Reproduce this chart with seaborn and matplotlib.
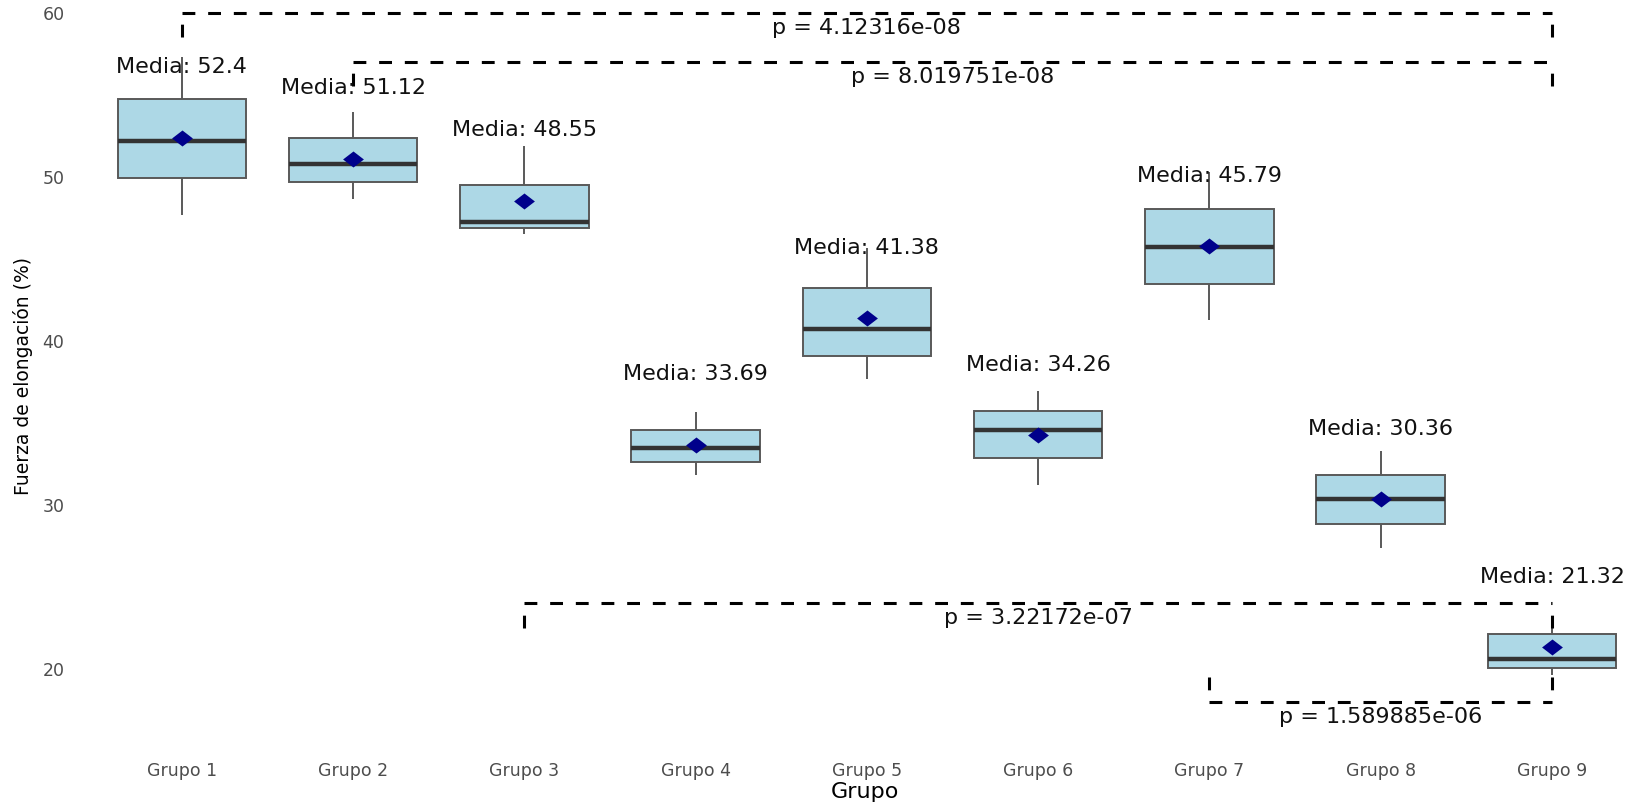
import numpy as np
import pandas as pd
import matplotlib
matplotlib.use("Agg")
import matplotlib.pyplot as plt
from matplotlib.path import Path
import seaborn as sns

# Groups and box summaries (whisker ends, quartiles, median) for elongation force
groups = ["Grupo 1", "Grupo 2", "Grupo 3", "Grupo 4", "Grupo 5",
          "Grupo 6", "Grupo 7", "Grupo 8", "Grupo 9"]
whisker_low = [47.68, 48.66, 46.53, 31.83, 37.68, 31.22, 41.28, 27.36, 19.64]
q1 = [49.92, 49.68, 46.87, 32.64, 39.11, 32.85, 43.50, 28.86, 20.04]
median = [52.20, 50.79, 47.24, 33.50, 40.72, 34.58, 45.71, 30.37, 20.63]
q3 = [54.76, 52.36, 49.51, 34.58, 43.25, 35.75, 48.05, 31.83, 22.14]
whisker_high = [57.30, 53.95, 51.91, 35.69, 45.70, 36.95, 50.30, 33.29, 22.90]
means = [52.40, 51.12, 48.55, 33.69, 41.38, 34.26, 45.79, 30.36, 21.32]

# Pairwise comparisons shown as brackets
comp_start = ["Grupo 1", "Grupo 2", "Grupo 3", "Grupo 7"]
comp_end = ["Grupo 9", "Grupo 9", "Grupo 9", "Grupo 9"]
comp_y = [60.03, 57.04, 24.02, 17.99]
comp_tip_dir = [-1, -1, -1, 1]   # -1: tips hang down, 1: tips point up
p_values = ["4.12316e-08", "8.019751e-08", "3.22172e-07", "1.589885e-06"]

# Five-number rows per group: quartiles of five sorted values are exactly q1/median/q3
rows = []
for g, a, b, c, d, e in zip(groups, whisker_low, q1, median, q3, whisker_high):
    for v in (a, b, c, d, e):
        rows.append({"Grupo": g, "Fuerza": v})
df = pd.DataFrame(rows)

sns.set_theme(style="white")
plt.rcParams["font.family"] = ["DejaVu Sans"]

W, H = 1638, 807
fig = plt.figure(figsize=(W / 100, H / 100), dpi=100)
left_px, right_px, bottom_px = 79, 1633, 757
ax = fig.add_axes([left_px / W, 1 - bottom_px / H, (right_px - left_px) / W, bottom_px / H])

sns.boxplot(data=df, x="Grupo", y="Fuerza", order=groups, ax=ax,
            color="#ADD8E6", saturation=1, width=0.75, whis=(0, 100),
            linecolor="#595959", linewidth=1.4, showcaps=False, fliersize=0,
            medianprops=dict(color="#333333", linewidth=3.2))

diamond = Path([(0, 1), (1.3, 0), (0, -1), (-1.3, 0), (0, 1)],
               [Path.MOVETO, Path.LINETO, Path.LINETO, Path.LINETO, Path.CLOSEPOLY])
sns.pointplot(x=groups, y=means, order=groups, ax=ax, color="#00008B",
              markers=diamond, linestyle="none", errorbar=None,
              markersize=15, markeredgewidth=0, zorder=5)

# Mean annotations above each box
for i, m in enumerate(means):
    ax.text(i, m + 3.93, f"Media: {m:g}", ha="center", va="baseline",
            fontsize=16, color="#111111", zorder=6)

# Significance brackets with dashed segments
pos = {g: i for i, g in enumerate(groups)}
dash = (0, (4.2, 4.2))
tip_len = 1.5
for s, e, y, d, p in zip(comp_start, comp_end, comp_y, comp_tip_dir, p_values):
    x1, x2 = pos[s], pos[e]
    ytip = y + d * tip_len
    kw = dict(color="black", linewidth=2.2, linestyle=dash, zorder=4,
              solid_capstyle="butt", dash_capstyle="butt")
    ax.plot([x1, x1], [ytip, y], **kw)
    ax.plot([x1, x2], [y, y], **kw)
    ax.plot([x2, x2], [ytip, y], **kw)
    ax.text((x1 + x2) / 2, y - 1.3, f"p = {p}", ha="center", va="baseline",
            fontsize=16, color="#111111", zorder=6)

ax.set_xlim(-0.6, 8.473)
ax.set_ylim(14.636, 60.795)
ax.set_yticks([20, 30, 40, 50, 60])
ax.tick_params(axis="x", length=0, pad=3.5, labelsize=12.5, labelcolor="#4D4D4D")
ax.tick_params(axis="y", length=0, pad=10.5, labelsize=12.5, labelcolor="#4D4D4D")
for sp in ax.spines.values():
    sp.set_visible(False)
ax.grid(False)
ax.set_facecolor("white")

ax.set_xlabel("Grupo", fontsize=16, color="black", va="center")
ax.xaxis.set_label_coords((865 - left_px) / (right_px - left_px), -(792 - bottom_px) / bottom_px)
ax.set_ylabel("Fuerza de elongación (%)", fontsize=13.5, color="black", va="center")
ax.yaxis.set_label_coords((23 - left_px) / (right_px - left_px), (bottom_px - 376) / bottom_px)

fig.savefig("out.png", dpi=100, facecolor="white")
